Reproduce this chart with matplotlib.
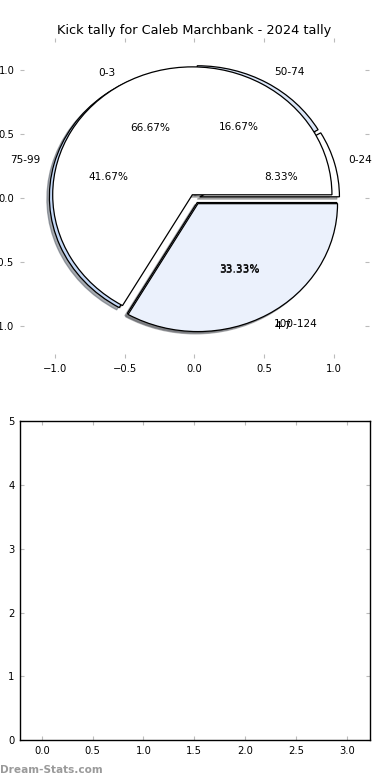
import matplotlib
matplotlib.use("Agg")
import matplotlib.pyplot as plt

# inner pie (drawn on top)
short_labels = ['0-3', '4-7']
short_values = [8, 4]
# outer pie (drawn first)
long_labels = ['0-24', '50-74', '75-99', '100-124']
long_values = [1, 2, 5, 4]

title = 'Kick tally for Caleb Marchbank - 2024 tally'

fig = plt.figure(figsize=(3.9, 7.8), dpi=100)
plt.rcParams['font.family'] = 'DejaVu Sans'

tick_gray = '#bbbbbb'
shadow = {'ox': -0.013, 'oy': -0.013, 'shade': 0.6}

# top panel: two pies on the same axes
ax1 = fig.add_axes([0.051, 0.541, 0.895, 0.41])
ax1.pie(long_values, labels=long_labels, autopct='%.2f%%',
        explode=[0.04, 0.04, 0.04, 0.04],
        colors=['white', '#dbe7f9', '#c4d8f6', '#eaf1fd'],
        shadow=shadow, wedgeprops={'edgecolor': 'black', 'linewidth': 0.9},
        textprops={'fontsize': 7.6})
ax1.pie(short_values, labels=short_labels, autopct='%.2f%%',
        explode=[0.03, 0.05],
        colors=['white', '#ebf1fc'],
        shadow=shadow, wedgeprops={'edgecolor': 'black', 'linewidth': 0.9},
        textprops={'fontsize': 7.6})
ax1.set_aspect('auto')
ax1.set_xlim(-1.25, 1.25)
ax1.set_ylim(-1.25, 1.25)
ax1.set_xticks([-1.0, -0.5, 0.0, 0.5, 1.0])
ax1.set_yticks([-1.0, -0.5, 0.0, 0.5, 1.0])
ax1.tick_params(direction='in', color=tick_gray, top=True, right=True,
                length=3, labelsize=7.2, pad=4)
ax1.set_title(title, fontsize=9.3, pad=3)

# bottom panel: empty axes
ax2 = fig.add_axes([0.051, 0.051, 0.897, 0.409])
ax2.set_xlim(-0.215, 3.225)
ax2.set_ylim(0, 5)
ax2.set_xticks([0.0, 0.5, 1.0, 1.5, 2.0, 2.5, 3.0])
ax2.set_yticks([0, 1, 2, 3, 4, 5])
ax2.tick_params(direction='in', color=tick_gray, top=True, right=True,
                length=3, labelsize=7.2, pad=4)
for s in ax2.spines.values():
    s.set_linewidth(1.0)
    s.set_color('black')

fig.text(0.0, 0.006, 'Dream-Stats.com', fontsize=7.6, fontweight='bold',
         color='#9a9a9a', ha='left', va='bottom')

fig.savefig('out.png', dpi=100)
